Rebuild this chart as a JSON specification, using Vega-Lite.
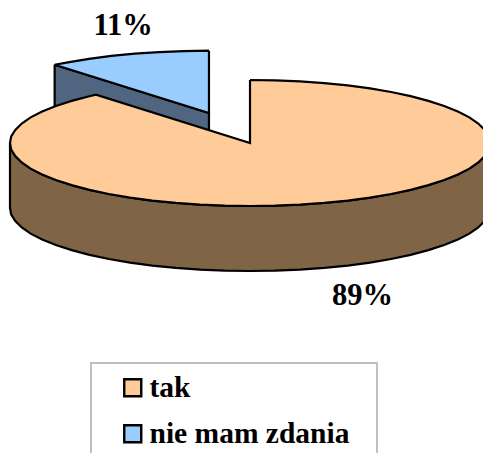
{"$schema":"https://vega.github.io/schema/vega-lite/v6.json","width":483,"height":453,"padding":0,"autosize":{"type":"none"},"background":"white","config":{"view":{"stroke":null}},
"datasets":{
"nieSide":[{"i":1,"x":-0.814,"y":1.242},{"i":2,"x":-0.171,"y":0.476},{"i":3,"x":-0.171,"y":-0.556},{"i":4,"x":-0.814,"y":0.21},{"i":5,"x":-0.814,"y":1.242}],
"nieTop":[{"i":1,"answer":"nie mam zdania","x":-0.171,"y":1.465},{"i":2,"answer":"nie mam zdania","x":-0.276,"y":1.46},{"i":3,"answer":"nie mam zdania","x":-0.379,"y":1.444},{"i":4,"answer":"nie mam zdania","x":-0.48,"y":1.418},{"i":5,"answer":"nie mam zdania","x":-0.578,"y":1.382},{"i":6,"answer":"nie mam zdania","x":-0.671,"y":1.336},{"i":7,"answer":"nie mam zdania","x":-0.759,"y":1.28},{"i":8,"answer":"nie mam zdania","x":-0.814,"y":1.242},{"i":9,"answer":"nie mam zdania","x":-0.171,"y":0.476},{"i":10,"answer":"nie mam zdania","x":-0.171,"y":1.465}],
"takSide":[{"i":1,"x":-1,"y":0},{"i":2,"x":-0.995,"y":-0.105},{"i":3,"x":-0.978,"y":-0.208},{"i":4,"x":-0.951,"y":-0.309},{"i":5,"x":-0.914,"y":-0.407},{"i":6,"x":-0.866,"y":-0.5},{"i":7,"x":-0.809,"y":-0.588},{"i":8,"x":-0.743,"y":-0.669},{"i":9,"x":-0.669,"y":-0.743},{"i":10,"x":-0.588,"y":-0.809},{"i":11,"x":-0.5,"y":-0.866},{"i":12,"x":-0.407,"y":-0.914},{"i":13,"x":-0.309,"y":-0.951},{"i":14,"x":-0.208,"y":-0.978},{"i":15,"x":-0.105,"y":-0.995},{"i":16,"x":0,"y":-1},{"i":17,"x":0.105,"y":-0.995},{"i":18,"x":0.208,"y":-0.978},{"i":19,"x":0.309,"y":-0.951},{"i":20,"x":0.407,"y":-0.914},{"i":21,"x":0.5,"y":-0.866},{"i":22,"x":0.588,"y":-0.809},{"i":23,"x":0.669,"y":-0.743},{"i":24,"x":0.743,"y":-0.669},{"i":25,"x":0.809,"y":-0.588},{"i":26,"x":0.866,"y":-0.5},{"i":27,"x":0.914,"y":-0.407},{"i":28,"x":0.951,"y":-0.309},{"i":29,"x":0.978,"y":-0.208},{"i":30,"x":0.995,"y":-0.105},{"i":31,"x":1,"y":0},{"i":32,"x":1,"y":-1.032},{"i":33,"x":0.995,"y":-1.137},{"i":34,"x":0.978,"y":-1.24},{"i":35,"x":0.951,"y":-1.341},{"i":36,"x":0.914,"y":-1.439},{"i":37,"x":0.866,"y":-1.532},{"i":38,"x":0.809,"y":-1.62},{"i":39,"x":0.743,"y":-1.701},{"i":40,"x":0.669,"y":-1.775},{"i":41,"x":0.588,"y":-1.841},{"i":42,"x":0.5,"y":-1.898},{"i":43,"x":0.407,"y":-1.946},{"i":44,"x":0.309,"y":-1.983},{"i":45,"x":0.208,"y":-2.01},{"i":46,"x":0.105,"y":-2.027},{"i":47,"x":0,"y":-2.032},{"i":48,"x":-0.105,"y":-2.027},{"i":49,"x":-0.208,"y":-2.01},{"i":50,"x":-0.309,"y":-1.983},{"i":51,"x":-0.407,"y":-1.946},{"i":52,"x":-0.5,"y":-1.898},{"i":53,"x":-0.588,"y":-1.841},{"i":54,"x":-0.669,"y":-1.775},{"i":55,"x":-0.743,"y":-1.701},{"i":56,"x":-0.809,"y":-1.62},{"i":57,"x":-0.866,"y":-1.532},{"i":58,"x":-0.914,"y":-1.439},{"i":59,"x":-0.951,"y":-1.341},{"i":60,"x":-0.978,"y":-1.24},{"i":61,"x":-0.995,"y":-1.137},{"i":62,"x":-1,"y":-1.032},{"i":63,"x":-1,"y":0}],
"takTop":[{"i":1,"answer":"tak","x":0,"y":1},{"i":2,"answer":"tak","x":0.105,"y":0.995},{"i":3,"answer":"tak","x":0.208,"y":0.978},{"i":4,"answer":"tak","x":0.309,"y":0.951},{"i":5,"answer":"tak","x":0.407,"y":0.914},{"i":6,"answer":"tak","x":0.5,"y":0.866},{"i":7,"answer":"tak","x":0.588,"y":0.809},{"i":8,"answer":"tak","x":0.669,"y":0.743},{"i":9,"answer":"tak","x":0.743,"y":0.669},{"i":10,"answer":"tak","x":0.809,"y":0.588},{"i":11,"answer":"tak","x":0.866,"y":0.5},{"i":12,"answer":"tak","x":0.914,"y":0.407},{"i":13,"answer":"tak","x":0.951,"y":0.309},{"i":14,"answer":"tak","x":0.978,"y":0.208},{"i":15,"answer":"tak","x":0.995,"y":0.105},{"i":16,"answer":"tak","x":1,"y":0},{"i":17,"answer":"tak","x":0.995,"y":-0.105},{"i":18,"answer":"tak","x":0.978,"y":-0.208},{"i":19,"answer":"tak","x":0.951,"y":-0.309},{"i":20,"answer":"tak","x":0.914,"y":-0.407},{"i":21,"answer":"tak","x":0.866,"y":-0.5},{"i":22,"answer":"tak","x":0.809,"y":-0.588},{"i":23,"answer":"tak","x":0.743,"y":-0.669},{"i":24,"answer":"tak","x":0.669,"y":-0.743},{"i":25,"answer":"tak","x":0.588,"y":-0.809},{"i":26,"answer":"tak","x":0.5,"y":-0.866},{"i":27,"answer":"tak","x":0.407,"y":-0.914},{"i":28,"answer":"tak","x":0.309,"y":-0.951},{"i":29,"answer":"tak","x":0.208,"y":-0.978},{"i":30,"answer":"tak","x":0.105,"y":-0.995},{"i":31,"answer":"tak","x":0,"y":-1},{"i":32,"answer":"tak","x":-0.105,"y":-0.995},{"i":33,"answer":"tak","x":-0.208,"y":-0.978},{"i":34,"answer":"tak","x":-0.309,"y":-0.951},{"i":35,"answer":"tak","x":-0.407,"y":-0.914},{"i":36,"answer":"tak","x":-0.5,"y":-0.866},{"i":37,"answer":"tak","x":-0.588,"y":-0.809},{"i":38,"answer":"tak","x":-0.669,"y":-0.743},{"i":39,"answer":"tak","x":-0.743,"y":-0.669},{"i":40,"answer":"tak","x":-0.809,"y":-0.588},{"i":41,"answer":"tak","x":-0.866,"y":-0.5},{"i":42,"answer":"tak","x":-0.914,"y":-0.407},{"i":43,"answer":"tak","x":-0.951,"y":-0.309},{"i":44,"answer":"tak","x":-0.978,"y":-0.208},{"i":45,"answer":"tak","x":-0.995,"y":-0.105},{"i":46,"answer":"tak","x":-1,"y":0},{"i":47,"answer":"tak","x":-0.995,"y":0.105},{"i":48,"answer":"tak","x":-0.978,"y":0.208},{"i":49,"answer":"tak","x":-0.951,"y":0.309},{"i":50,"answer":"tak","x":-0.914,"y":0.407},{"i":51,"answer":"tak","x":-0.866,"y":0.5},{"i":52,"answer":"tak","x":-0.809,"y":0.588},{"i":53,"answer":"tak","x":-0.743,"y":0.669},{"i":54,"answer":"tak","x":-0.669,"y":0.743},{"i":55,"answer":"tak","x":-0.642,"y":0.767},{"i":56,"answer":"tak","x":0,"y":0},{"i":57,"answer":"tak","x":0,"y":1}],
"labels":[{"label":"11%","x":-0.529,"y":1.714},{"label":"89%","x":0.469,"y":-2.571}],
"box":[{"x":-0.6625,"x2":0.529,"y":-3.492,"y2":-5.3}]
},
"encoding":{
"x":{"field":"x","type":"quantitative","axis":null,"scale":{"domain":[-1.0417,0.9708],"nice":false,"zero":false}},
"y":{"field":"y","type":"quantitative","axis":null,"scale":{"domain":[-4.921,2.27],"nice":false,"zero":false}}
},
"layer":[
{"data":{"name":"box"},"mark":{"type":"rect","fill":"white","stroke":"#bfbfbf","strokeWidth":2,"clip":true},"encoding":{"x2":{"field":"x2"},"y2":{"field":"y2"}}},
{"data":{"name":"nieSide"},"mark":{"type":"line","fill":"#4f6580","stroke":"black","strokeWidth":2.2,"strokeJoin":"miter"},"encoding":{"order":{"field":"i"}}},
{"data":{"name":"nieTop"},"mark":{"type":"line","filled":true,"stroke":"black","strokeWidth":2.2,"strokeJoin":"miter"},"encoding":{"order":{"field":"i"},"fill":{"field":"answer","type":"nominal","scale":{"domain":["tak","nie mam zdania"],"range":["#ffcc99","#99ccff"]},"legend":{"title":null,"orient":"none","legendX":118,"legendY":373,"symbolType":"square","symbolSize":289,"symbolStrokeColor":"black","symbolStrokeWidth":2.4,"symbolOpacity":1,"labelFont":"Liberation Serif","labelFontWeight":"bold","labelFontSize":29.5,"labelColor":"#000000","labelOffset":2,"rowPadding":15,"padding":0,"labelLimit":300}}}},
{"data":{"name":"takSide"},"mark":{"type":"line","fill":"#7f6545","stroke":"black","strokeWidth":2.2,"strokeJoin":"miter"},"encoding":{"order":{"field":"i"}}},
{"data":{"name":"takTop"},"mark":{"type":"line","filled":true,"stroke":"black","strokeWidth":2.2,"strokeJoin":"miter"},"encoding":{"order":{"field":"i"},"fill":{"field":"answer","type":"nominal","scale":{"domain":["tak","nie mam zdania"],"range":["#ffcc99","#99ccff"]}}}},
{"data":{"name":"labels"},"mark":{"type":"text","font":"Liberation Serif","fontWeight":"bold","fontSize":30.5,"align":"center","baseline":"alphabetic","color":"#000000"},"encoding":{"text":{"field":"label"}}}
]}
